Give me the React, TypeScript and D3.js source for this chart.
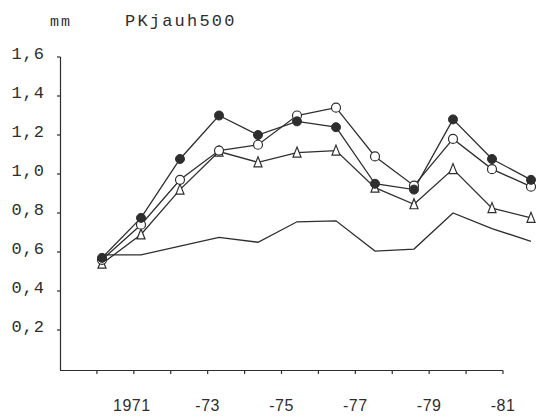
import React from "react";
import * as d3 from "d3";

const years = [1970, 1971, 1972, 1973, 1974, 1975, 1976, 1977, 1978, 1979, 1980, 1981];
const filledSeries = [0.57, 0.775, 1.077, 1.3, 1.2, 1.27, 1.24, 0.95, 0.92, 1.28, 1.077, 0.97];
const openSeries = [0.56, 0.74, 0.97, 1.12, 1.15, 1.3, 1.34, 1.09, 0.94, 1.18, 1.025, 0.935];
const triangleSeries = [0.54, 0.69, 0.92, 1.115, 1.06, 1.11, 1.12, 0.93, 0.845, 1.025, 0.825, 0.775];
const plainSeries = [0.585, 0.585, 0.63, 0.675, 0.65, 0.755, 0.76, 0.605, 0.615, 0.8, 0.72, 0.655];
const yTicks = [0.2, 0.4, 0.6, 0.8, 1.0, 1.2, 1.4, 1.6];
const xTickYears = [1970, 1971, 1972, 1973, 1974, 1975, 1976, 1977, 1978, 1979, 1980, 1981];
const xLabels = [
  { year: 1971, text: "1971" },
  { year: 1973, text: "-73" },
  { year: 1975, text: "-75" },
  { year: 1977, text: "-77" },
  { year: 1979, text: "-79" },
  { year: 1981, text: "-81" },
];

const INK = "#2e2e2e";

export default function App() {
  const y = d3.scaleLinear().domain([0, 1.6]).range([369, 57]);
  const xData = d3.scaleLinear().domain([1970, 1981]).range([102, 531]);
  const xAxis = d3.scaleLinear().domain([1969, 1981]).range([60, 503]);
  const line = d3
    .line<number>()
    .x((_, i) => xData(years[i]))
    .y((d) => y(d));

  const mono = "'Liberation Mono', 'DejaVu Sans Mono', monospace";
  const sans = "'Liberation Sans', Arial, sans-serif";

  const tri = (cx: number, cy: number) => {
    const h = 9, w = 8;
    return `M${cx},${cy - h / 2 - 1}L${cx + w / 2},${cy + h / 2}L${cx - w / 2},${cy + h / 2}Z`;
  };

  return (
    <svg width={552} height={418} style={{ position: "absolute", left: 0, top: 0, background: "#fff" }}>
      {/* header texts */}
      <text x={50} y={26} fontFamily={mono} fontSize={15} letterSpacing={2} fill={INK}>mm</text>
      <text x={125} y={26} fontFamily={mono} fontSize={17} letterSpacing={2.2} fill={INK}>PKjauh500</text>

      {/* y axis */}
      <line x1={60.5} x2={60.5} y1={57} y2={370} stroke={INK} strokeWidth={1.2} />
      {yTicks.map((t) => (
        <g key={t}>
          <line x1={57} x2={60.5} y1={y(t)} y2={y(t)} stroke={INK} strokeWidth={1.2} />
          <text
            x={45}
            y={y(t) + 2}
            textAnchor="end"
            fontFamily={mono}
            fontSize={17}
            letterSpacing={1}
            fill={INK}
          >
            {d3.format(".1f")(t).replace(".", ",")}
          </text>
        </g>
      ))}

      {/* x axis */}
      <line x1={60} x2={503} y1={370.5} y2={370.5} stroke={INK} strokeWidth={1.2} />
      {xTickYears.map((yr) => (
        <line key={yr} x1={xAxis(yr)} x2={xAxis(yr)} y1={370.5} y2={374} stroke={INK} strokeWidth={1.2} />
      ))}
      {xLabels.map((l) => (
        <text
          key={l.text}
          x={xAxis(l.year) - (l.year === 1971 ? 2 : 0)}
          y={411}
          textAnchor="middle"
          fontFamily={sans}
          fontSize={16}
          letterSpacing={0.5}
          fill={INK}
        >
          {l.text}
        </text>
      ))}

      {/* lines */}
      {[plainSeries, triangleSeries, openSeries, filledSeries].map((s, i) => (
        <path key={i} d={line(s) || ""} fill="none" stroke={INK} strokeWidth={1.3} />
      ))}

      {/* markers */}
      {triangleSeries.map((v, i) => (
        <path key={"t" + i} d={tri(xData(years[i]), y(v))} fill="#fff" stroke={INK} strokeWidth={1.2} />
      ))}
      {openSeries.map((v, i) => (
        <circle key={"o" + i} cx={xData(years[i])} cy={y(v)} r={4.5} fill="#fff" stroke={INK} strokeWidth={1.2} />
      ))}
      {filledSeries.map((v, i) => (
        <circle key={"f" + i} cx={xData(years[i])} cy={y(v)} r={4.5} fill={INK} stroke={INK} strokeWidth={1} />
      ))}
    </svg>
  );
}
